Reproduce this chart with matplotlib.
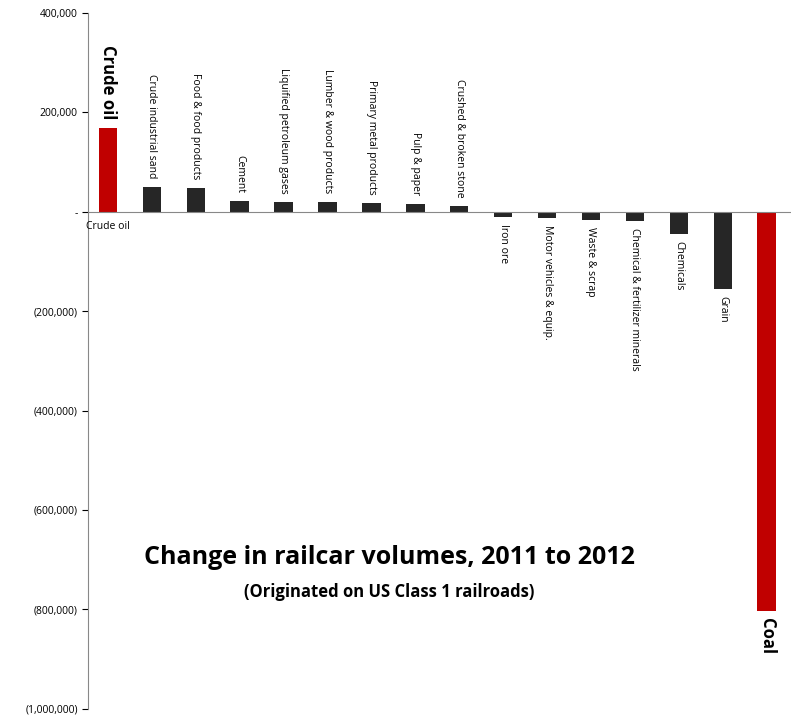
import matplotlib.pyplot as plt
from matplotlib.ticker import FuncFormatter

categories = ['Crude oil', 'Crude industrial sand', 'Food & food products', 'Cement',
              'Liquified petroleum gases', 'Lumber & wood products', 'Primary metal products',
              'Pulp & paper', 'Crushed & broken stone', 'Iron ore', 'Motor vehicles & equip.',
              'Waste & scrap', 'Chemical & fertilizer minerals', 'Chemicals', 'Grain', 'Coal']
changes = [169000, 50000, 48000, 22000, 20000, 20000, 18000, 16000, 12000,
           -10000, -12000, -16000, -18000, -45000, -155000, -803000]
highlight = {'Crude oil', 'Coal'}

plt.rcParams['font.family'] = ['Open Sans', 'DejaVu Sans']

fig = plt.figure(figsize=(7.94, 7.21), dpi=100)
ax = fig.add_axes([0.111, 0.017, 0.885, 0.965])

x = list(range(len(categories)))
colors = ['#c00000' if c in highlight else '#262626' for c in categories]
ax.bar(x, changes, width=0.42, color=colors)

for i, (c, v) in enumerate(zip(categories, changes)):
    big = c in highlight
    fs = 12 if big else 7.5
    fw = 'bold' if big else 'normal'
    off = 6 if v > 0 else -5
    ax.annotate(c, (i, v), xytext=(0, off), textcoords='offset points',
                rotation=270, ha='center', va='bottom' if v > 0 else 'top',
                fontsize=fs, fontweight=fw)

ax.set_xlim(-0.45, len(categories) - 0.45)
ax.set_ylim(-1000000, 400000)
ax.set_yticks(range(-1000000, 400001, 200000))

def fmt(v, pos):
    if v == 0:
        return '-'
    if v < 0:
        return f'({-v:,.0f})'
    return f'{v:,.0f}'

ax.yaxis.set_major_formatter(FuncFormatter(fmt))
ax.tick_params(axis='y', labelsize=7.5, length=4, direction='out')
ax.set_xticks([])
ax.text(0, -18000, 'Crude oil', ha='center', va='top', fontsize=7.5)

for s in ['top', 'right', 'bottom']:
    ax.spines[s].set_visible(False)
ax.spines['left'].set_color('#888888')
ax.axhline(0, color='#888888', lw=0.8)

ax.text(0.49, 0.227, 'Change in railcar volumes, 2011 to 2012', transform=fig.transFigure,
        ha='center', va='center', fontsize=18, fontweight='bold')
ax.text(0.49, 0.179, '(Originated on US Class 1 railroads)', transform=fig.transFigure,
        ha='center', va='center', fontsize=12, fontweight='bold')

fig.savefig('out.png', dpi=100)
